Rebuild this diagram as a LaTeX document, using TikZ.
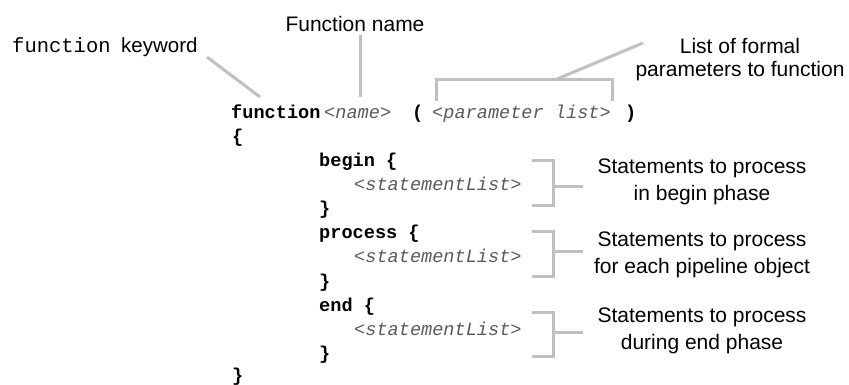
\documentclass[tikz,border=0pt]{standalone}
\usepackage{fontspec}
\setmainfont{Liberation Sans}
\setmonofont{Liberation Mono}
\definecolor{linegray}{RGB}{192,192,192}
\definecolor{codegray}{RGB}{90,90,90}
\begin{document}
\begin{tikzpicture}[x=1pt,y=-1pt,
  lbl/.style={inner sep=0pt,anchor=base,font=\fontsize{21}{27}\selectfont},
  code/.style={inner sep=0pt,anchor=base west,font=\fontsize{18.6}{24}\selectfont\ttfamily\bfseries},
  ph/.style={inner sep=0pt,anchor=base west,font=\fontsize{18.6}{24}\selectfont\ttfamily\itshape,text=codegray},
  conn/.style={draw=linegray,line width=3pt}]
\useasboundingbox (0,0) rectangle (849,384);
% top labels
\node[inner sep=0pt,anchor=base west,font=\fontsize{20.5}{24}\selectfont\ttfamily] (kwmono) at (12,52) {function};
\node[inner sep=0pt,anchor=base west,font=\fontsize{20.5}{24}\selectfont] (kwtext) at (121,52) {keyword};
\node[lbl] (fname) at (355,31) {Function name};
\node[lbl] (plist1) at (740,53) {List of formal};
\node[lbl] (plist2) at (740,76) {parameters to function};
% code
\node[code] (kwfunc) at (231,118) {function};
\node[ph] (name) at (324,118) {<name>};
\node[code] (lpar) at (412,118) {(};
\node[ph] (params) at (432,118) {<parameter list>};
\node[code] (rpar) at (625,118) {)};
\node[code] (open) at (232,142) {\{};
\node[code] (beginkw) at (319,166) {begin \{};
\node[ph] (stmt1) at (354,190) {<statementList>};
\node[code] (close1) at (319,214) {\}};
\node[code] (processkw) at (319,238) {process \{};
\node[ph] (stmt2) at (354,262) {<statementList>};
\node[code] (close2) at (319,287) {\}};
\node[code] (endkw) at (319,311) {end \{};
\node[ph] (stmt3) at (354,335) {<statementList>};
\node[code] (close3) at (319,359) {\}};
\node[code] (closeall) at (232,381) {\}};
% right labels
\node[lbl] (b1a) at (702,173) {Statements to process};
\node[lbl] (b1b) at (702,200) {in begin phase};
\node[lbl] (b2a) at (702,246) {Statements to process};
\node[lbl] (b2b) at (702,273) {for each pipeline object};
\node[lbl] (b3a) at (702,322) {Statements to process};
\node[lbl] (b3b) at (702,349) {during end phase};
% connector coordinates
\coordinate (kwA) at (207,57);
\coordinate (kwB) at (260,97);
\coordinate (fnA) at (360,35);
\coordinate (fnB) at (360,97);
\coordinate (plA) at (643,43);
\coordinate (plB) at (557,79);
\coordinate (brL) at (436,79);
\coordinate (brR) at (612,79);
% connectors
\draw[conn] (kwA) -- (kwB);
\draw[conn] (fnA) -- (fnB);
\draw[conn] (plA) -- (plB);
\draw[conn] (brL |- 0,101) -- (brL) -- (brR) -- (brR |- 0,101);
\foreach \t/\b/\s in {160/205/186, 231/276/251, 312/356/332}{
  \draw[conn] (532,\t) -- (553,\t) -- (553,\b) -- (532,\b);
  \draw[conn] (553,\s) -- (583,\s);
}
\end{tikzpicture}
\end{document}
